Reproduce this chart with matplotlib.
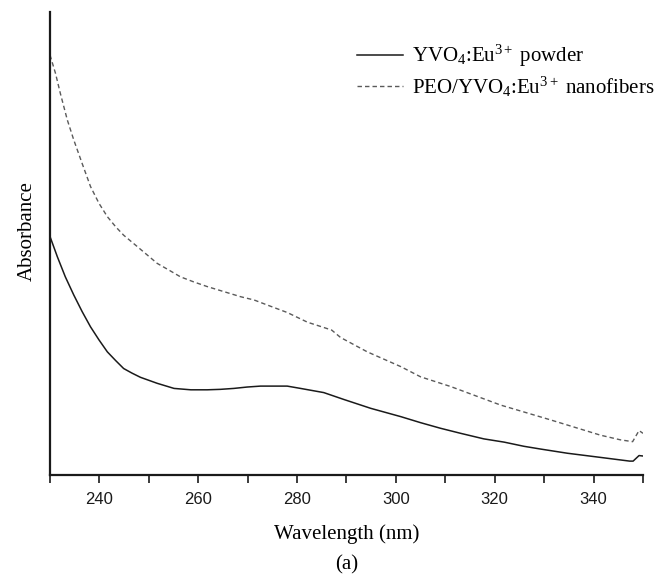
import matplotlib
matplotlib.use("Agg")
import matplotlib.pyplot as plt
from matplotlib.ticker import MultipleLocator, NullLocator

# Data (absorbance in arbitrary units)
powder_wl = [230.0, 231.5, 233.1, 234.8, 236.5, 238.2, 239.9, 241.6, 243.3, 244.9,
             246.6, 248.3, 251.7, 255.1, 258.5, 261.8, 264.5, 267.2, 269.9, 272.6,
             278.0, 280.7, 285.4, 289.5, 294.9, 301.0, 305.0, 309.0, 313.1, 317.8,
             321.9, 325.9, 329.3, 334.7, 341.4, 347.3, 348.0, 349.2, 350.0]
powder_abs = [0.515, 0.471, 0.428, 0.389, 0.353, 0.320, 0.292, 0.266, 0.247, 0.230,
              0.220, 0.211, 0.198, 0.187, 0.184, 0.184, 0.185, 0.187, 0.190, 0.192,
              0.192, 0.187, 0.178, 0.163, 0.144, 0.126, 0.113, 0.101, 0.090, 0.078,
              0.071, 0.062, 0.056, 0.047, 0.038, 0.030, 0.030, 0.042, 0.041]

fiber_wl = [230.0, 231.1, 232.1, 233.5, 234.8, 236.5, 238.2, 239.9, 241.6, 243.3,
            244.9, 247.7, 249.7, 251.7, 254.0, 256.4, 259.1, 261.8, 265.2, 268.6,
            271.3, 274.0, 278.0, 282.1, 285.0, 287.0, 288.8, 294.2, 301.0, 305.0,
            311.1, 321.2, 331.3, 341.4, 345.4, 347.9, 349.2, 350.0]
fiber_abs = [0.907, 0.868, 0.824, 0.767, 0.724, 0.673, 0.623, 0.587, 0.558, 0.536,
             0.518, 0.493, 0.475, 0.457, 0.443, 0.428, 0.417, 0.407, 0.396, 0.385,
             0.378, 0.367, 0.351, 0.330, 0.320, 0.313, 0.297, 0.266, 0.234, 0.212,
             0.191, 0.151, 0.119, 0.086, 0.076, 0.072, 0.096, 0.090]

labels = ["YVO$_4$:Eu$^{3+}$ powder", "PEO/YVO$_4$:Eu$^{3+}$ nanofibers"]
xticks = [240, 260, 280, 300, 320, 340]
xlabel = "Wavelength (nm)"
ylabel = "Absorbance"
caption = "(a)"

plt.rcParams['mathtext.fontset'] = 'custom'
plt.rcParams['mathtext.rm'] = 'Liberation Serif'
plt.rcParams['mathtext.it'] = 'Liberation Serif:italic'
plt.rcParams['mathtext.bf'] = 'Liberation Serif:bold'

W, H = 654, 577
L, R, T, B = 50, 643, 12, 475
fig = plt.figure(figsize=(W/100, H/100), dpi=100)
ax = fig.add_axes([L/W, (H-B)/H, (R-L)/W, (B-T)/H])

ax.plot(powder_wl, powder_abs, color='#1a1a1a', lw=1.1, ls='-', label=labels[0])
ax.plot(fiber_wl, fiber_abs, color='#5a5a5a', lw=1.0, ls=(0, (3.2, 2.2)), label=labels[1])

ax.set_xlim(230, 350)
ax.set_ylim(0, 1.0)
ax.set_xticks(xticks)
ax.xaxis.set_minor_locator(MultipleLocator(10))
ax.yaxis.set_major_locator(NullLocator())
ax.tick_params(axis='x', which='both', direction='out', length=6, width=1.2,
               labelsize=12, pad=6, colors='#1a1a1a')
for lab in ax.get_xticklabels():
    lab.set_family('Liberation Sans')

for s in ['top', 'right']:
    ax.spines[s].set_visible(False)
for s in ['left', 'bottom']:
    ax.spines[s].set_linewidth(1.6)
    ax.spines[s].set_color('#1a1a1a')

ax.set_xlabel(xlabel, family='Liberation Serif', fontsize=15, labelpad=13)
ax.set_ylabel(ylabel, family='Liberation Serif', fontsize=15)
ax.yaxis.set_label_coords(-0.022, 0.527)

ax.legend(loc='upper left', frameon=False, handlelength=2.2, handletextpad=0.42,
          prop={'family': 'Liberation Serif', 'size': 15},
          bbox_to_anchor=(357/W, 1 - 43/H), bbox_transform=fig.transFigure,
          borderpad=0, borderaxespad=0, labelspacing=0.25)

fig.text((L + R) / 2 / W, 1 - 565/H, caption, ha='center', va='center',
         family='Liberation Serif', fontsize=15)

fig.savefig("out.png", dpi=100)
